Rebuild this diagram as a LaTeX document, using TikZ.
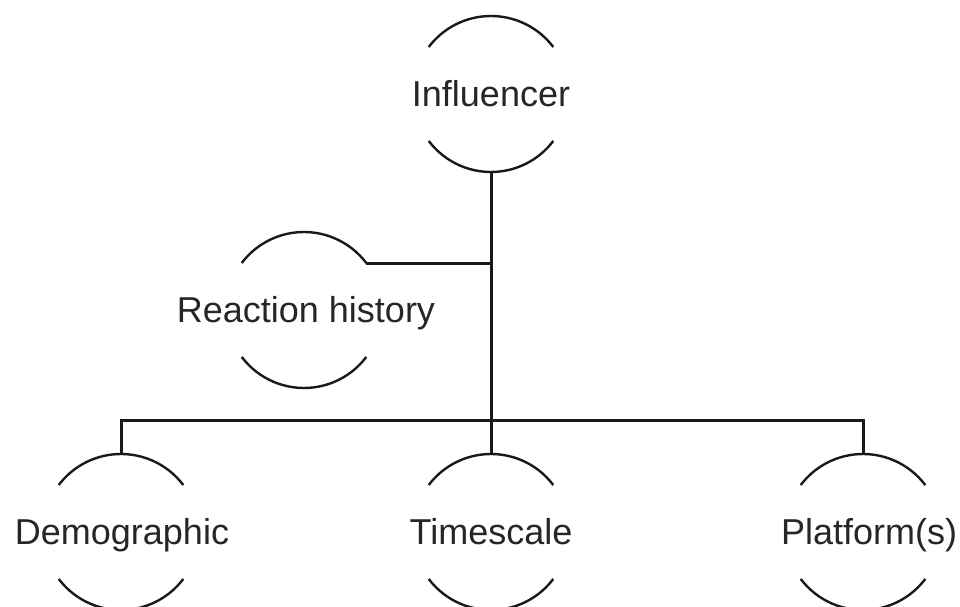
\documentclass[tikz,border=0pt]{standalone}
\usepackage{fontspec}
\setmainfont{Liberation Sans}
\begin{document}
\begin{tikzpicture}[x=1pt,y=1pt,
  lbl/.style={font=\fontsize{36}{40}\selectfont, text=black!85, text height=26pt, text depth=0pt, inner sep=0pt},
  ring/.style={circle, minimum size=156pt, inner sep=0pt, outer sep=0pt},
  arcline/.style={line width=2.4pt, draw=black!90},
  link/.style={line width=3pt, draw=black!90}]
\clip (0,0) rectangle (960,607);
\node[ring, label={[lbl, name=inf-l]center:Influencer}] (inf) at (491,513) {};
\node[ring, label={[lbl, name=rh-l, xshift=2pt]center:Reaction history}] (rh) at (304,297) {};
\node[ring, label={[lbl, name=dem-l, xshift=1pt]center:Demographic}] (dem) at (121,75) {};
\node[ring, label={[lbl, name=time-l]center:Timescale}] (time) at (491,75) {};
\node[ring, label={[lbl, name=plat-l, xshift=6pt]center:Platform(s)}] (plat) at (863,75) {};
\coordinate (bar) at (491,186);
\foreach \n in {inf,rh,dem,time,plat}{
  \draw[arcline] (\n.37) arc[start angle=37, end angle=143, radius=78pt];
  \draw[arcline] (\n.217) arc[start angle=217, end angle=323, radius=78pt];
}
\draw[link] (inf.south) -- (bar);
\draw[link] (rh.37) -- (rh.37 -| inf.south);
\draw[link] (dem.north) |- (bar);
\draw[link] (bar) -| (plat.north);
\draw[link] (time.north) -- (bar);
\end{tikzpicture}
\end{document}
